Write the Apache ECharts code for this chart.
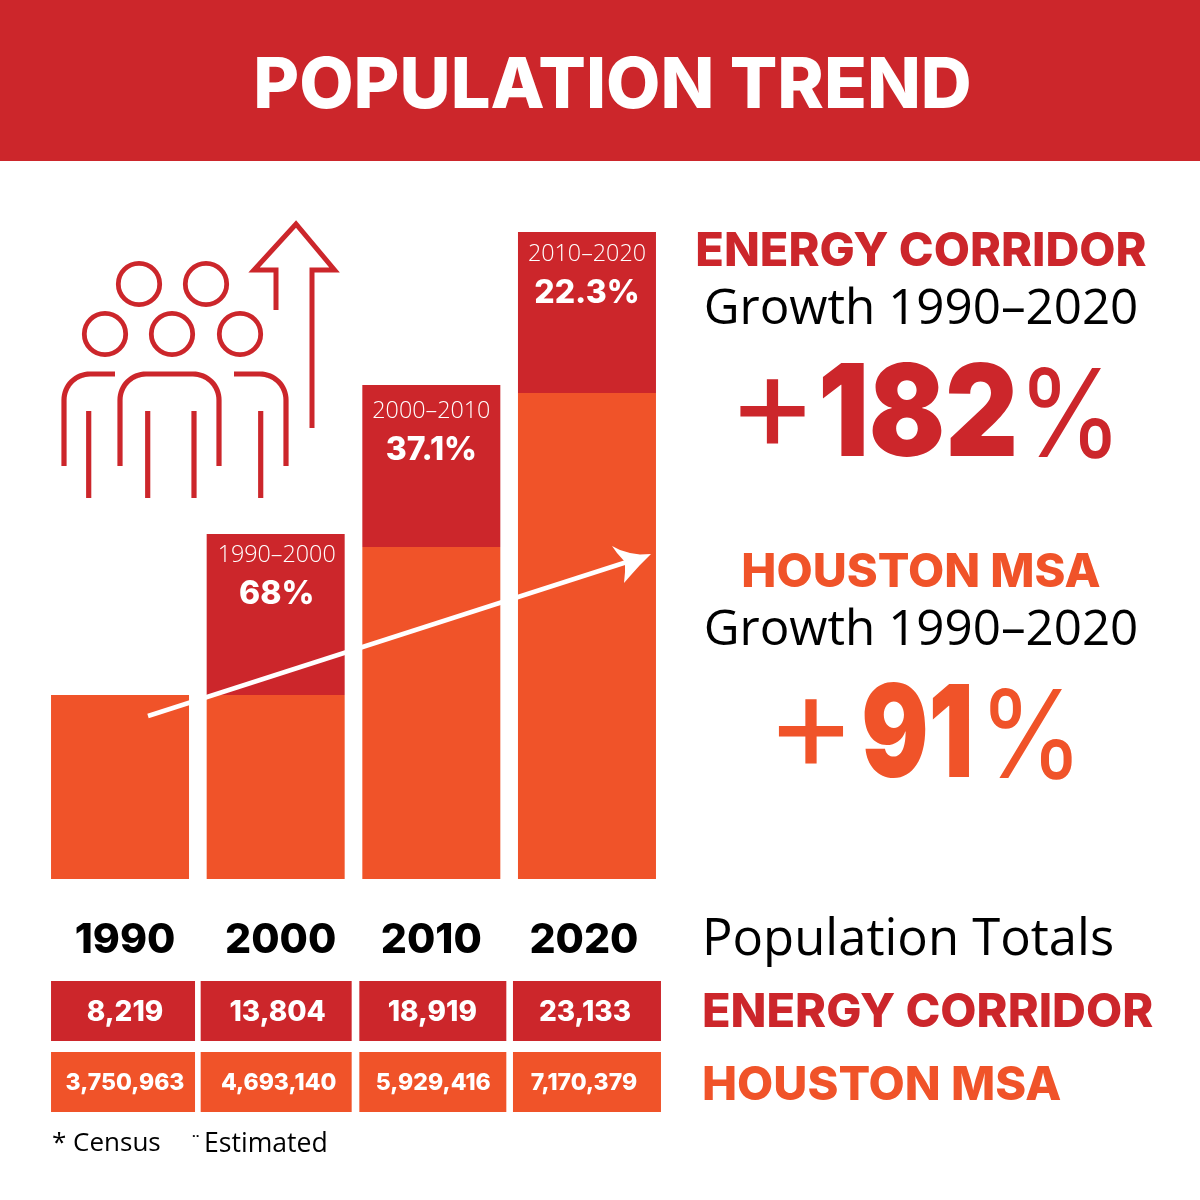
<!DOCTYPE html>
<html><head><meta charset="utf-8">
<style>html,body{margin:0;padding:0;background:#fff}#c{width:1200px;height:1200px}</style>
<script src="https://cdn.jsdelivr.net/npm/echarts@6/dist/echarts.min.js"></script>
</head><body><div id="c"></div>
<script>
// ---- data ----
const years = ['1990','2000','2010','2020'];
const baseHeights = [184,184,332,486];      // orange part of the bars
const growthHeights = [0,161,162,161];      // dark red part of the bars
const growthPeriods = ['', '1990–2000','2000–2010','2010–2020'];
const growthPercents = ['', '68%','37.1%','22.3%'];
const corridorTotals = ['8,219','13,804','18,919','23,133'];
const msaTotals = ['3,750,963','4,693,140','5,929,416','7,170,379'];
const rowNames = ['ENERGY CORRIDOR','HOUSTON MSA'];

// ---- style / layout ----
const RED='#CC262B', ORANGE='#F05329', BLACK='#000';
const HEAVY='Inter', LIGHT='"Open Sans"';
const yearShift=[5,5,0,-3];
const cellW=[144,151,147,148], cellDx=[3,0.5,1.5,0];
const textDx=[[5,2,1,-2],[5,3,2,-3]];
const labelOffset=[[0,0],[1,-4],[0,1.5],[0,-3]];

function arc(cx,cy,r,a0,a1){const p=[];for(let i=0;i<=16;i++){const a=(a0+(a1-a0)*i/16)*Math.PI/180;p.push([cx+r*Math.cos(a),cy+r*Math.sin(a)]);}return p;}
const iconStroke={fill:null,stroke:RED,lineWidth:5,lineCap:'butt',lineJoin:'miter'};
const pl=(pts,w)=>({type:'polyline',z:5,shape:{points:pts},style:Object.assign({},iconStroke,{lineWidth:w||5})});
const circ=(x,y)=>({type:'circle',z:5,shape:{cx:x,cy:y,r:20.7},style:{fill:null,stroke:RED,lineWidth:4.8}});
const vleg=x=>pl([[x,411],[x,498]],5.2);
const txt=(x,y,text,font,fill,align)=>({type:'text',z:6,x:x,y:y,style:{text:text,font:font,fill:fill,align:align||'left',verticalAlign:'middle',textAlign:align||'left',textVerticalAlign:'middle'}});
const scaled=(x,y,text,font,fill,sx)=>Object.assign(txt(x,y,text,font,fill,'center'),{scaleX:sx});

const graphics=[
 {type:'rect',z:0,shape:{x:0,y:0,width:1200,height:161},style:{fill:RED}},
 circ(139,284),circ(206,284),circ(105,334),circ(172,334),circ(240,334),
 pl([[115,374]].concat(arc(90,400,26,270,180)).concat([[64,466]]),5.2),
 pl([[120,466]].concat(arc(146,400,26,180,270)).concat(arc(193,400,26,270,360)).concat([[219,466]]),5.2),
 pl([[234,374]].concat(arc(260,400,26,270,360)).concat([[286,466]]),5.2),
 vleg(88.7),vleg(147.7),vleg(194),vleg(260.7),
 pl([[312,428],[312,270],[334.5,270],[296,224],[254,270],[276,270],[276,310]],5),
 // trend arrow
 {type:'line',z:8,shape:{x1:148,y1:716,x2:630,y2:561},style:{stroke:'#fff',lineWidth:4.5}},
 {type:'polygon',z:8,shape:{points:[[651,554],[640,554.5],[630,553],[620,550],[612,546],[617,553],[625,562],[625,572],[624,583],[631,575],[640,565]]},style:{fill:'#fff'}},
 // right column
 txt(921,252,rowNames[0],'800 46.9px '+HEAVY,RED,'center'),
 txt(921,310,'Growth 1990–2020','400 49.3px '+LIGHT,BLACK,'center'),
 scaled(772.5,409,'+','400 136px '+HEAVY,RED,1),
 scaled(918,418,'182','900 128px '+HEAVY,RED,0.88),
 scaled(1070,420,'%','400 122px '+HEAVY,RED,0.88),
 txt(921,573,rowNames[1],'800 46.9px '+HEAVY,ORANGE,'center'),
 txt(921,631,'Growth 1990–2020','400 49.3px '+LIGHT,BLACK,'center'),
 scaled(811,729.5,'+','400 136px '+HEAVY,ORANGE,1),
 scaled(917.5,738.5,'91','900 128px '+HEAVY,ORANGE,0.78),
 scaled(1031,741,'%','400 122px '+HEAVY,ORANGE,0.88),
 txt(702,941,'Population Totals','400 50.8px '+LIGHT,BLACK),
 txt(702,1013,rowNames[0],'800 46.9px '+HEAVY,RED),
 txt(702,1086,rowNames[1],'800 46.9px '+HEAVY,ORANGE),
 txt(52,1144,'* Census','400 26px '+LIGHT,BLACK),
 txt(192,1136,'··','700 13px '+LIGHT,BLACK),
 txt(204,1144,'Estimated','400 26.6px '+LIGHT,BLACK),
];

const yearRich={};
years.forEach((y,i)=>{yearRich['y'+i]={fontFamily:HEAVY,fontWeight:800,fontSize:41,color:BLACK,
  padding:yearShift[i]>=0?[0,0,0,yearShift[i]*2]:[0,-yearShift[i]*2,0,0]};});

const option={
 animation:false,
 backgroundColor:'#fff',
 title:{text:'POPULATION TREND',left:607.5,top:82,textAlign:'center',textVerticalAlign:'middle',z:6,
   textStyle:{color:'#fff',fontFamily:HEAVY,fontWeight:800,fontSize:70.4}},
 graphic:{elements:graphics},
 grid:[
  {left:42.2,width:622.6,top:232,height:647},
  {left:42.2,width:622.6,top:975.5,height:142}
 ],
 xAxis:[
  {type:'category',gridIndex:0,data:years,axisLine:{show:false},axisTick:{show:false},
   axisLabel:{margin:41,interval:0,formatter:(v,i)=>'{y'+i+'|'+v+'}',rich:yearRich}},
  {type:'category',gridIndex:1,data:years,show:false}
 ],
 yAxis:[
  {type:'value',gridIndex:0,min:0,max:647,show:false},
  {type:'category',gridIndex:1,data:rowNames,inverse:true,show:false}
 ],
 series:[
  {type:'bar',xAxisIndex:0,yAxisIndex:0,stack:'t',barWidth:138,data:baseHeights,itemStyle:{color:ORANGE}},
  {type:'bar',xAxisIndex:0,yAxisIndex:0,stack:'t',barWidth:138,
   data:growthHeights.map((v,i)=>({value:v,label:{offset:labelOffset[i]}})),itemStyle:{color:RED},
   label:{show:true,position:'insideTop',distance:6,
    formatter:p=>growthPeriods[p.dataIndex]?'{a|'+growthPeriods[p.dataIndex]+'}\n{b|'+growthPercents[p.dataIndex]+'}':'',
    rich:{a:{fontFamily:LIGHT,fontWeight:300,fontSize:23.3,color:'#fff',lineHeight:38},
          b:{fontFamily:HEAVY,fontWeight:800,fontSize:32,color:'#fff',lineHeight:40}}}},
  {type:'custom',xAxisIndex:1,yAxisIndex:1,coordinateSystem:'cartesian2d',
   data:years.flatMap((y,i)=>[[i,0,corridorTotals[i]],[i,1,msaTotals[i]]]),
   encode:{x:0,y:1},
   renderItem:(params,api)=>{
     const i=api.value(0),r=api.value(1),c=api.coord([i,r]);
     const w=cellW[i];
     return {type:'group',children:[
      {type:'rect',shape:{x:c[0]+cellDx[i]-w/2,y:c[1]-30,width:w,height:60},style:{fill:r===0?RED:ORANGE}},
      {type:'text',x:c[0]+textDx[r][i],y:c[1]+1.5,style:{text:r===0?corridorTotals[i]:msaTotals[i],align:'center',verticalAlign:'middle',
        fill:'#fff',font:r===0?'800 28px '+HEAVY:'800 23px '+HEAVY}}
     ]};
   }}
 ]
};
echarts.init(document.getElementById('c'),null,{renderer:'canvas'}).setOption(option);
</script></body></html>
